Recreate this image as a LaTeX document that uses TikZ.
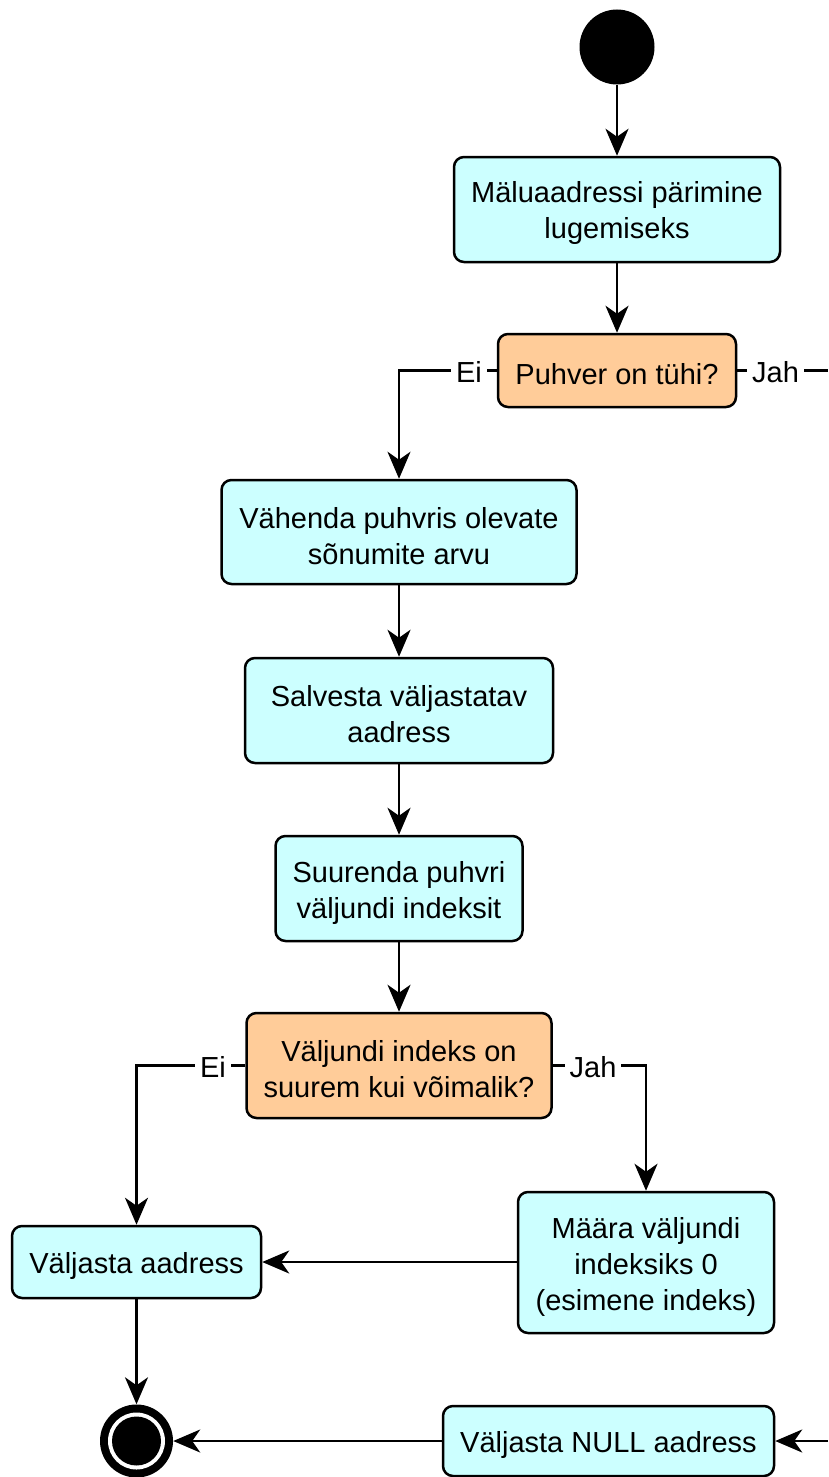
\documentclass[tikz,border=0pt]{standalone}
\usepackage{fontspec}
\setmainfont{Liberation Sans}
\usetikzlibrary{arrows.meta}
% extra room above the first line so that box texts sit a little low
\newcommand\boxstrut{\rule{0pt}{29pt}}
\begin{document}
\begin{tikzpicture}[x=1pt,y=-1pt,
  every node/.style={font=\fontsize{29}{36}\selectfont},
  actbox/.style={draw=black, line width=2.5pt, rounded corners=10pt, fill=actfill, align=center, inner sep=0pt},
  decbox/.style={actbox, fill=decfill},
  lbl/.style={fill=white, inner xsep=5pt, inner ysep=2pt},
  flow/.style={line width=2.5pt, -{Stealth[length=27pt,width=23pt,inset=8pt]}},
  wire/.style={line width=2.5pt}
]
\definecolor{actfill}{HTML}{CCFFFF}
\definecolor{decfill}{HTML}{FFCC99}
\useasboundingbox (0,0) rectangle (828,1477);

% start and end states
\fill (617,47) circle (37.5pt);
\node[circle, minimum size=75pt, inner sep=0pt] (start) at (617,47) {};
\node[circle, minimum size=73pt, inner sep=0pt] (stop) at (136.5,1441) {};
\fill (136.5,1441) circle (36.5pt);
\fill[white] (136.5,1441) circle (28.5pt);
\fill (136.5,1441) circle (24.5pt);

% activities and decisions
\node[actbox, minimum width=326pt, minimum height=105pt] (n1) at (617,209.5) {\boxstrut Mäluaadressi pärimine\\lugemiseks};
\node[decbox, minimum width=238pt, minimum height=73pt] (d1) at (617,370.5) {\boxstrut Puhver on tühi?};
\node[actbox, minimum width=355pt, minimum height=104pt] (n2) at (399,532) {\boxstrut Vähenda puhvris olevate\\sõnumite arvu};
\node[actbox, minimum width=308pt, minimum height=105pt] (n3) at (399,710.5) {\boxstrut Salvesta väljastatav\\aadress};
\node[actbox, minimum width=247pt, minimum height=105pt] (n4) at (399,888.5) {\boxstrut Suurenda puhvri\\väljundi indeksit};
\node[decbox, minimum width=305pt, minimum height=105pt] (d2) at (399,1065.5) {\boxstrut Väljundi indeks on\\suurem kui võimalik?};
\node[actbox, minimum width=249pt, minimum height=72pt] (n5) at (136.5,1262) {\boxstrut Väljasta aadress};
\node[actbox, minimum width=256pt, minimum height=141pt] (n6) at (646,1262.5) {\boxstrut Määra väljundi\\indeksiks 0\\(esimene indeks)};
\node[actbox, minimum width=331pt, minimum height=70pt] (n7) at (608.5,1441) {\boxstrut Väljasta NULL aadress};

% connectors
\coordinate (jahout) at (828,370.5);
\coordinate (jahin) at (828,1441);
\draw[flow] (start) -- (n1);
\draw[flow] (n1) -- (d1);
\draw[flow] (d1.west) -| (n2.north);
\draw[wire] (d1.east) -- (jahout);
\draw[flow] (n2) -- (n3);
\draw[flow] (n3) -- (n4);
\draw[flow] (n4) -- (d2);
\draw[flow] (d2.west) -| (n5.north);
\draw[flow] (d2.east) -| (n6.north);
\draw[flow] (n6.west |- n5.east) -- (n5.east);
\draw[flow] (n5) -- (stop);
\draw[flow] (n7) -- (stop);
\draw[flow] (jahin) -- (n7.east);

% branch labels
\node[lbl] (l1) at (469,372) {Ei};
\node[lbl] (l2) at (775.5,372) {Jah};
\node[lbl] (l3) at (213,1067) {Ei};
\node[lbl] (l4) at (593,1067) {Jah};
\end{tikzpicture}
\end{document}
